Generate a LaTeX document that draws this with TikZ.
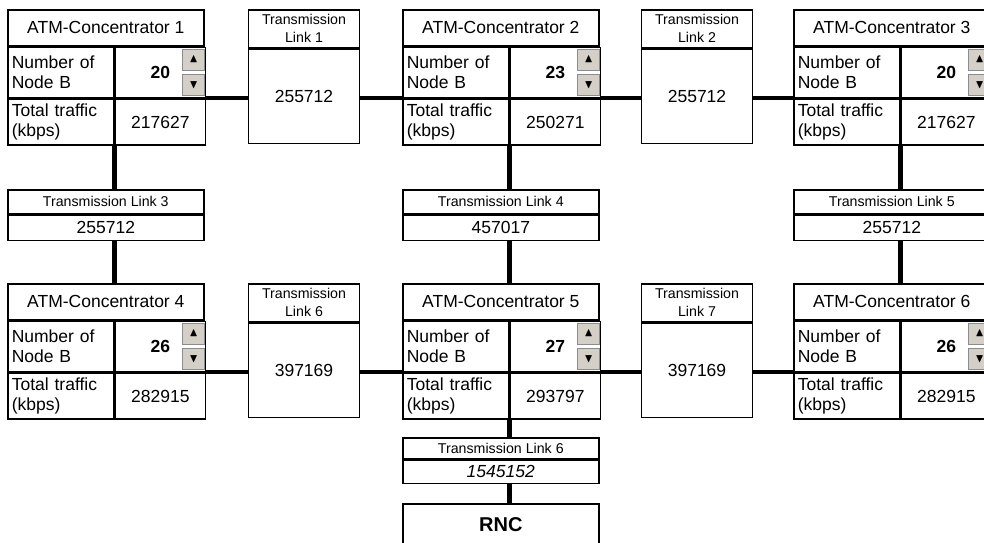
\documentclass[tikz,border=0pt]{standalone}
\usepackage{amssymb}
\usepackage{fontspec}
\setmainfont{Liberation Sans}
\usepackage{tikz}
\usetikzlibrary{positioning}
\definecolor{btngray}{RGB}{212,208,200}
\newcommand{\cellf}{\fontsize{17.5}{20}\selectfont}
\newcommand{\linkf}{\fontsize{14.2}{18}\selectfont}
\newcommand{\rncf}{\fontsize{20}{22}\selectfont}
\newcommand{\arrf}{\fontsize{12}{12}\selectfont}
\tikzset{
  hdcell/.style ={draw, line width=1.6pt, minimum width=196pt,
                  minimum height=36pt, inner sep=0pt, font=\cellf,
                  anchor=north west},
  lblcell/.style={draw, line width=1.6pt, text width=98pt, inner xsep=4pt,
                  inner ysep=0pt, minimum height=50pt, align=left,
                  font=\cellf, anchor=north west},
  valcell/.style={draw, line width=1.6pt, minimum width=90pt,
                  minimum height=50pt, inner sep=0pt, font=\cellf,
                  anchor=north west},
  spinbtn/.style={draw=black!45, fill=btngray, line width=0.8pt,
                  minimum width=22pt, minimum height=21pt, inner sep=0pt,
                  font=\arrf},
  lkhead/.style ={draw, line width=1.6pt, minimum width=111pt,
                  minimum height=38pt, inner sep=0pt, align=center,
                  font=\linkf, anchor=north},
  lkbody/.style ={draw, line width=1.6pt, minimum width=111pt,
                  minimum height=94pt, inner sep=0pt, font=\cellf,
                  anchor=north},
  whead/.style  ={draw, line width=1.6pt, minimum width=196pt,
                  minimum height=24pt, inner sep=0pt, font=\linkf,
                  anchor=north west},
  wbody/.style  ={draw, line width=1.6pt, minimum width=196pt,
                  minimum height=25pt, inner sep=0pt, font=\cellf,
                  anchor=north west},
  trunk/.style  ={line width=4.5pt},
}
% concentrator: name, left, top, number, node B count, traffic
\newcommand{\atm}[6]{%
  \node[hdcell] (#1) at (#2,#3) {ATM-Concentrator #4};
  \node[lblcell] (#1n) at (#1.south west) {Number of\\Node B};
  \node[valcell] (#1c) at (#1n.north east) {\textbf{#5}};
  \node[lblcell, minimum height=46pt] (#1t) at (#1n.south west)
    {Total traffic\\(kbps)};
  \node[valcell, minimum height=46pt] (#1v) at (#1t.north east) {#6};
  \node[spinbtn, anchor=north east] (#1up)
    at ([xshift=-1pt,yshift=-2pt]#1c.north east) {$\blacktriangle$};
  \node[spinbtn, anchor=south east] (#1dn)
    at ([xshift=-1pt,yshift=2pt]#1c.south east) {$\blacktriangledown$};
}
% tall link between two concentrators: name, centre x, top, title, value
\newcommand{\tlink}[5]{%
  \node[lkhead] (#1) at (#2,#3) {#4};
  \node[lkbody] (#1v) at (#1.south) {#5};
}

\begin{document}
\begin{tikzpicture}[x=1pt, y=-1pt]
  \useasboundingbox (0,0) rectangle (984,542);
  \clip (0,0) rectangle (984,542);
  \atm{a1}{7}{9}{1}{20}{217627}
  \atm{a2}{402}{9}{2}{23}{250271}
  \atm{a3}{793}{9}{3}{20}{217627}
  \atm{a4}{7}{283}{4}{26}{282915}
  \atm{a5}{402}{283}{5}{27}{293797}
  \atm{a6}{793}{283}{6}{26}{282915}
  \tlink{tl1}{304}{9}{Transmission\\Link 1}{255712}
  \tlink{tl2}{697}{9}{Transmission\\Link 2}{255712}
  \tlink{tl6}{304}{283}{Transmission\\Link 6}{397169}
  \tlink{tl7}{697}{283}{Transmission\\Link 7}{397169}
  \node[whead] (tl3) at (7,189) {Transmission Link 3};
  \node[wbody] (tl3v) at (tl3.south west) {255712};
  \node[whead] (tl4) at (402,189) {Transmission Link 4};
  \node[wbody] (tl4v) at (tl4.south west) {457017};
  \node[whead] (tl5) at (793,189) {Transmission Link 5};
  \node[wbody] (tl5v) at (tl5.south west) {255712};
  \node[whead, minimum height=21pt] (tl8) at (402,437) {Transmission Link 6};
  \node[wbody, minimum height=23pt] (tl8v) at (tl8.south west)
    {\textit{1545152}};
  \node[wbody, minimum height=42pt, font=\rncf] (rnc) at (402,503)
    {\textbf{RNC}};
  % horizontal trunks
  \draw[trunk] (a1c.south east) -- (a1c.south east -| tl1v.west);
  \draw[trunk] (a2n.south west -| tl1v.east) -- (a2n.south west);
  \draw[trunk] (a2c.south east) -- (a2c.south east -| tl2v.west);
  \draw[trunk] (a3n.south west -| tl2v.east) -- (a3n.south west);
  \draw[trunk] (a4c.south east) -- (a4c.south east -| tl6v.west);
  \draw[trunk] (a5n.south west -| tl6v.east) -- (a5n.south west);
  \draw[trunk] (a5c.south east) -- (a5c.south east -| tl7v.west);
  \draw[trunk] (a6n.south west -| tl7v.east) -- (a6n.south west);
  % vertical trunks
  \draw[trunk] (a1v.south west) -- (a1v.south west |- tl3.north);
  \draw[trunk] (tl3v.south -| a1v.west) -- (a4.north -| a1v.west);
  \draw[trunk] (a2v.south west) -- (a2v.south west |- tl4.north);
  \draw[trunk] (tl4v.south -| a2v.west) -- (a5.north -| a2v.west);
  \draw[trunk] (a3v.south west) -- (a3v.south west |- tl5.north);
  \draw[trunk] (tl5v.south -| a3v.west) -- (a6.north -| a3v.west);
  \draw[trunk] (a5v.south west) -- (a5v.south west |- tl8.north);
  \draw[trunk] (tl8v.south -| a5v.west) -- (rnc.north -| a5v.west);
\end{tikzpicture}
\end{document}
